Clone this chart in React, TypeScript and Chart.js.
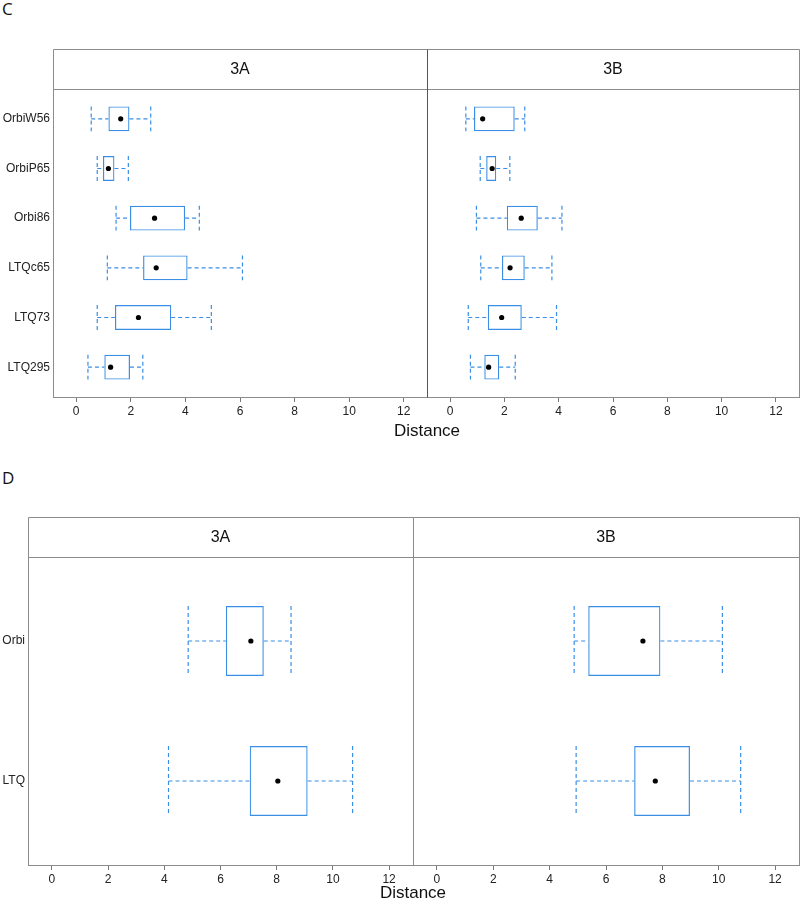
import React, { useEffect, useRef } from "react";
import { Chart, registerables } from "chart.js";
Chart.register(...registerables);

// ---------- data ----------
const xTicks = [0, 2, 4, 6, 8, 10, 12];

const catsC = ["OrbiW56", "OrbiP65", "Orbi86", "LTQc65", "LTQ73", "LTQ295"];
const c3aMin = [0.55, 0.77, 1.46, 1.14, 0.77, 0.43];
const c3aQ1 = [1.18, 0.98, 1.97, 2.45, 1.42, 1.03];
const c3aMed = [1.63, 1.18, 2.87, 2.93, 2.28, 1.26];
const c3aQ3 = [1.95, 1.4, 3.99, 4.08, 3.48, 1.97];
const c3aMax = [2.73, 1.91, 4.51, 6.09, 4.95, 2.44];

const c3bMin = [0.58, 1.11, 0.97, 1.13, 0.67, 0.75];
const c3bQ1 = [0.88, 1.33, 2.09, 1.91, 1.39, 1.26];
const c3bMed = [1.2, 1.55, 2.62, 2.21, 1.9, 1.42];
const c3bQ3 = [2.38, 1.7, 3.23, 2.75, 2.64, 1.81];
const c3bMax = [2.75, 2.2, 4.12, 3.75, 3.92, 2.4];

const catsD = ["Orbi", "LTQ"];
const d3aMin = [4.85, 4.15];
const d3aQ1 = [6.19, 7.04];
const d3aMed = [7.08, 8.04];
const d3aQ3 = [7.54, 9.1];
const d3aMax = [8.51, 10.7];

const d3bMin = [4.87, 4.94];
const d3bQ1 = [5.37, 7.0];
const d3bMed = [7.31, 7.75];
const d3bQ3 = [7.93, 8.98];
const d3bMax = [10.13, 10.78];

// ---------- styling ----------
const BLUE = "#3a8ee6";
const FRAME = "#8c8c8c";
const FONT = '"Liberation Sans", Arial, sans-serif';
const CAP = 0.25; // half box height in category units (box ratio 0.5)

type Stats = { min: number[]; q1: number[]; med: number[]; q3: number[]; max: number[] };

function whiskerPoints(cats: string[], s: Stats) {
  const pts: any[] = [];
  const gap = { x: null, y: null };
  cats.forEach((_, i) => {
    const y = i + 1;
    pts.push(
      { x: s.min[i], y }, { x: s.q1[i], y }, gap,
      { x: s.q3[i], y }, { x: s.max[i], y }, gap,
      { x: s.min[i], y: y - CAP }, { x: s.min[i], y: y + CAP }, gap,
      { x: s.max[i], y: y - CAP }, { x: s.max[i], y: y + CAP }, gap
    );
  });
  return pts;
}

function framePlugin(label: string, leftColor: string, rightColor: string) {
  return {
    id: "frame",
    afterDraw(chart: any) {
      const { ctx, chartArea: a } = chart;
      const L = Math.round(a.left) + 0.5;
      const R = Math.round(a.right) + 0.5;
      const T = 0.5;
      const S = Math.round(a.top) + 0.5;
      const B = Math.round(a.bottom) + 0.5;
      ctx.save();
      ctx.lineWidth = 1;
      ctx.setLineDash([]);
      ctx.strokeStyle = FRAME;
      ctx.beginPath();
      ctx.moveTo(L, T); ctx.lineTo(R, T);
      ctx.moveTo(L, S); ctx.lineTo(R, S);
      ctx.moveTo(L, B); ctx.lineTo(R, B);
      ctx.stroke();
      ctx.strokeStyle = leftColor;
      ctx.beginPath(); ctx.moveTo(L, T); ctx.lineTo(L, B); ctx.stroke();
      ctx.strokeStyle = rightColor;
      ctx.beginPath(); ctx.moveTo(R, T); ctx.lineTo(R, B); ctx.stroke();
      ctx.fillStyle = "#111";
      ctx.font = `16px ${FONT}`;
      ctx.textAlign = "center";
      ctx.textBaseline = "middle";
      ctx.fillText(label, (a.left + a.right) / 2, a.top / 2 + 1);
      ctx.restore();
    },
  };
}

type PanelProps = {
  left: number; top: number; width: number; height: number;
  cats: string[]; stats: Stats; label: string; showY: boolean; yWidth: number;
  leftColor: string; rightColor: string;
};

function Panel(p: PanelProps) {
  const ref = useRef<HTMLCanvasElement>(null);
  useEffect(() => {
    const canvas = ref.current!;
    const n = p.cats.length;
    const chart = new Chart(canvas, {
      type: "bar",
      data: {
        datasets: [
          {
            type: "scatter",
            data: p.cats.map((_, i) => ({ x: p.stats.med[i], y: i + 1 })),
            pointRadius: 2.6,
            pointHoverRadius: 2.6,
            pointBackgroundColor: "#000",
            pointBorderWidth: 0,
          } as any,
          {
            type: "bar",
            data: p.cats.map((_, i) => ({ x: [p.stats.q1[i], p.stats.q3[i]], y: i + 1 })),
            backgroundColor: "rgba(0,0,0,0)",
            borderColor: BLUE,
            borderWidth: 1.2,
            borderSkipped: false,
            categoryPercentage: 0.5,
            barPercentage: 1,
          } as any,
          {
            type: "line",
            data: whiskerPoints(p.cats, p.stats),
            borderColor: BLUE,
            borderWidth: 1.2,
            borderDash: [4, 3],
            pointRadius: 0,
            pointHoverRadius: 0,
            pointHitRadius: 0,
            fill: false,
            spanGaps: false,
            tension: 0,
          } as any,
        ],
      },
      options: {
        indexAxis: "y",
        animation: false,
        responsive: false,
        events: [],
        layout: { autoPadding: false, padding: { top: 40, right: 1, left: 0, bottom: 0 } },
        plugins: { legend: { display: false }, tooltip: { enabled: false }, title: { display: false } },
        scales: {
          x: {
            type: "linear",
            offset: false,
            min: -0.85,
            max: 12.85,
            afterBuildTicks: (s: any) => { s.ticks = xTicks.map((v) => ({ value: v })); },
            afterFit: (s: any) => {
              s.height = p.height - 348;
              s.paddingLeft = 0; s.paddingRight = 0; s.paddingTop = 0; s.paddingBottom = 0;
            },
            ticks: { font: { size: 12, family: FONT }, color: "#222", padding: 2, maxRotation: 0, autoSkip: false },
            grid: { display: true, drawOnChartArea: false, drawTicks: true, tickLength: 5, color: "#777", tickColor: "#777", lineWidth: 1 },
            border: { display: true, color: FRAME },
          },
          y: {
            type: "linear",
            offset: false,
            display: p.showY,
            reverse: true,
            min: 0.4,
            max: n + 0.6,
            afterBuildTicks: (s: any) => { s.ticks = p.cats.map((_, i) => ({ value: i + 1 })); },
            afterFit: (s: any) => {
              s.width = p.yWidth;
              s.paddingLeft = 0; s.paddingRight = 0; s.paddingTop = 0; s.paddingBottom = 0;
            },
            ticks: {
              font: { size: 12, family: FONT },
              color: "#222",
              padding: 3,
              autoSkip: false,
              callback: (v: any) => p.cats[Math.round(Number(v)) - 1] ?? "",
            },
            grid: { display: false, drawTicks: false },
            border: { display: false },
          },
        },
      } as any,
      plugins: [framePlugin(p.label, p.leftColor, p.rightColor)],
    });
    return () => chart.destroy();
  }, []);
  return (
    <canvas
      ref={ref}
      width={p.width}
      height={p.height}
      style={{ position: "absolute", left: p.left, top: p.top, width: p.width, height: p.height }}
    />
  );
}

const txt = (extra: React.CSSProperties): React.CSSProperties => ({
  position: "absolute",
  fontFamily: FONT,
  color: "#111",
  whiteSpace: "nowrap",
  ...extra,
});

export default function App() {
  const sC3a: Stats = { min: c3aMin, q1: c3aQ1, med: c3aMed, q3: c3aQ3, max: c3aMax };
  const sC3b: Stats = { min: c3bMin, q1: c3bQ1, med: c3bMed, q3: c3bQ3, max: c3bMax };
  const sD3a: Stats = { min: d3aMin, q1: d3aQ1, med: d3aMed, q3: d3aQ3, max: d3aMax };
  const sD3b: Stats = { min: d3bMin, q1: d3bQ1, med: d3bMed, q3: d3bQ3, max: d3bMax };
  return (
    <div style={{ position: "absolute", left: 0, top: 0, width: 800, height: 904, background: "#fff", overflow: "hidden" }}>
      <div style={txt({ left: 2, top: 0, fontSize: 17, lineHeight: "17px", fontFamily: '"Open Sans", sans-serif' })}>C</div>
      <Panel left={0} top={49} width={428} height={380} cats={catsC} stats={sC3a} label="3A" showY={true} yWidth={53} leftColor={FRAME} rightColor="#555" />
      <Panel left={427} top={49} width={373} height={380} cats={catsC} stats={sC3b} label="3B" showY={false} yWidth={0} leftColor="#555" rightColor={FRAME} />
      <div style={txt({ left: 327, width: 200, textAlign: "center", top: 421, fontSize: 17, lineHeight: "20px" })}>Distance</div>

      <div style={txt({ left: 2, top: 469, fontSize: 17, lineHeight: "17px", fontFamily: '"Open Sans", sans-serif' })}>D</div>
      <Panel left={0} top={517} width={414} height={380} cats={catsD} stats={sD3a} label="3A" showY={true} yWidth={28} leftColor={FRAME} rightColor={FRAME} />
      <Panel left={413} top={517} width={387} height={380} cats={catsD} stats={sD3b} label="3B" showY={false} yWidth={0} leftColor={FRAME} rightColor={FRAME} />
      <div style={txt({ left: 313, width: 200, textAlign: "center", top: 883, fontSize: 17, lineHeight: "20px" })}>Distance</div>
    </div>
  );
}
